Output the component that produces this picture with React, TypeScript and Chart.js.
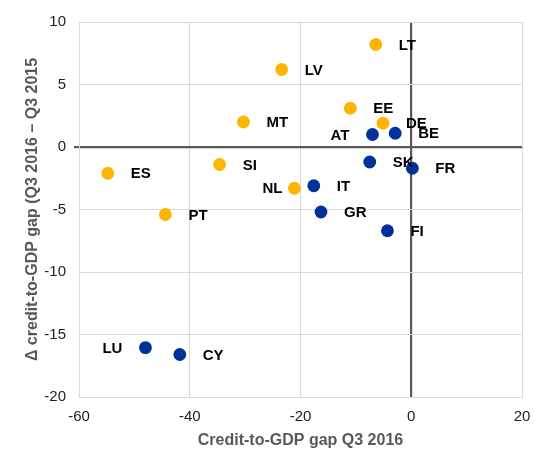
import React, { useEffect, useRef } from "react";
import { Chart, registerables } from "chart.js";

Chart.register(...registerables);

const orangeLabels = ["LT", "LV", "EE", "MT", "DE", "SI", "ES", "NL", "PT"];
const orangeX = [-6.4, -23.4, -11.0, -30.3, -5.1, -34.6, -54.8, -21.1, -44.4];
const orangeY = [8.2, 6.2, 3.1, 2.0, 1.9, -1.4, -2.1, -3.3, -5.4];

const blueLabels = ["AT", "BE", "SK", "FR", "IT", "GR", "FI", "LU", "CY"];
const blueX = [-7.0, -2.9, -7.5, 0.2, -17.6, -16.3, -4.3, -48.0, -41.8];
const blueY = [1.0, 1.1, -1.2, -1.7, -3.1, -5.2, -6.7, -16.05, -16.6];

const xTitle = "Credit-to-GDP gap Q3 2016";
const yTitle = "Δ credit-to-GDP gap (Q3 2016 – Q3 2015";

const ORANGE = "#FFB400";
const BLUE = "#003299";
const FONT = '"Liberation Sans", Arial, sans-serif';

const LABEL_SHIFT: Record<string, number> = { AT: -23, NL: -12, LU: -23 };

const labelPlugin = {
  id: "pointLabels",
  afterDatasetsDraw(chart: any) {
    const ctx = chart.ctx;
    ctx.save();
    ctx.font = `bold 15px ${FONT}`;
    ctx.fillStyle = "#000000";
    ctx.textBaseline = "middle";
    chart.data.datasets.forEach((ds: any, i: number) => {
      const meta = chart.getDatasetMeta(i);
      meta.data.forEach((pt: any, j: number) => {
        const lbl = ds.pointLabels[j];
        const dx = LABEL_SHIFT[lbl] ?? 23;
        ctx.textAlign = dx < 0 ? "right" : "left";
        ctx.fillText(lbl, pt.x + dx, pt.y + 1);
      });
    });
    ctx.restore();
  },
};

export default function App() {
  const ref = useRef<HTMLCanvasElement | null>(null);
  useEffect(() => {
    if (!ref.current) return;
    Chart.defaults.font.family = FONT;
    const chart = new Chart(ref.current, {
      type: "scatter",
      data: {
        datasets: [
          {
            label: "orange",
            data: orangeX.map((x, i) => ({ x, y: orangeY[i] })),
            backgroundColor: ORANGE,
            borderWidth: 0,
            pointRadius: 6.4,
            pointHoverRadius: 6.4,
            pointLabels: orangeLabels,
          } as any,
          {
            label: "blue",
            data: blueX.map((x, i) => ({ x, y: blueY[i] })),
            backgroundColor: BLUE,
            borderWidth: 0,
            pointRadius: 6.4,
            pointHoverRadius: 6.4,
            pointLabels: blueLabels,
          } as any,
        ],
      },
      options: {
        animation: false,
        responsive: false,
        devicePixelRatio: 1,
        layout: { padding: { top: 22, right: 12, left: 0, bottom: 0 } },
        plugins: { legend: { display: false }, tooltip: { enabled: false } },
        scales: {
          x: {
            type: "linear",
            min: -60,
            max: 20,
            afterFit: (s: any) => {
              s.height = 53;
              s.paddingLeft = 0;
              s.paddingRight = 0;
            },
            ticks: { stepSize: 20, font: { size: 15 }, color: "#222222", padding: 11 },
            grid: {
              drawTicks: false,
              color: (c: any) => (c.tick && c.tick.value === 0 ? "#595959" : "#d9d9d9"),
              lineWidth: (c: any) => (c.tick && c.tick.value === 0 ? 2.2 : 1),
            },
            border: { color: "#d9d9d9" },
            title: {
              display: true,
              text: xTitle,
              color: "#595959",
              font: { size: 16, weight: "bold" },
              padding: { top: 0, bottom: 0 },
            },
          },
          y: {
            type: "linear",
            min: -20,
            max: 10,
            afterFit: (s: any) => {
              s.width = 79;
            },
            ticks: { stepSize: 5, font: { size: 15 }, color: "#222222", padding: 8 },
            grid: {
              drawTicks: true,
              tickLength: 5,
              tickColor: (c: any) => (c.tick && c.tick.value === 0 ? "#595959" : "rgba(0,0,0,0)"),
              color: (c: any) => (c.tick && c.tick.value === 0 ? "#595959" : "#d9d9d9"),
              lineWidth: (c: any) => (c.tick && c.tick.value === 0 ? 2.2 : 1),
            },
            border: { color: "#d9d9d9" },
            title: {
              display: true,
              text: yTitle,
              color: "#595959",
              font: { size: 16, weight: "bold" },
              padding: { top: 23, bottom: 0 },
            },
          },
        },
      },
      plugins: [labelPlugin],
    });
    return () => chart.destroy();
  }, []);
  return (
    <div style={{ position: "absolute", left: 0, top: 0, width: 534, height: 450 }}>
      <canvas ref={ref} width={534} height={450} style={{ display: "block", width: 534, height: 450 }} />
    </div>
  );
}
